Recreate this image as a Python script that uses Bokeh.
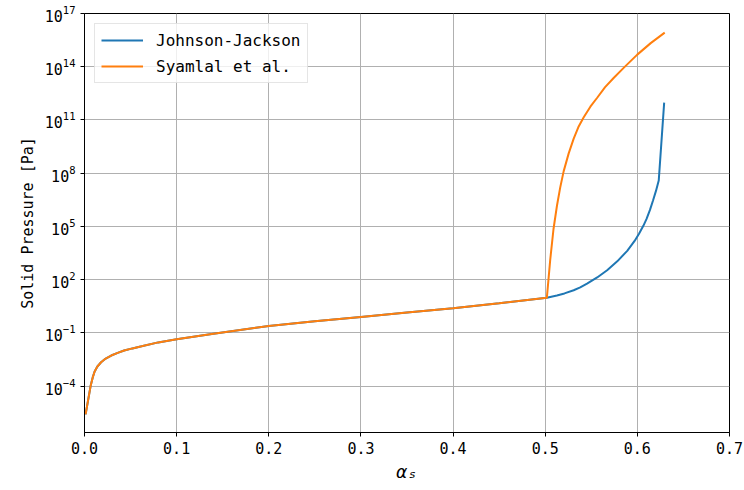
from bokeh.plotting import figure
from bokeh.models import FixedTicker, PrintfTickFormatter, Range1d, Legend, LegendItem
from bokeh.embed import file_html
from bokeh.resources import INLINE

# shared kinetic part (both models coincide below ~0.5)
alpha_low = [0.0012, 0.0068, 0.009, 0.011, 0.014, 0.018, 0.023, 0.029, 0.036, 0.043,
             0.052, 0.062, 0.08, 0.1, 0.14, 0.2, 0.25, 0.3, 0.35, 0.4, 0.45, 0.5018]
p_low = [2.5e-6, 1.12e-4, 3.16e-4, 6.6e-4, 1.26e-3, 2.19e-3, 3.55e-3, 5.25e-3, 7.4e-3, 1.0e-2,
         1.32e-2, 1.74e-2, 2.88e-2, 4.37e-2, 8.9e-2, 0.245, 0.447, 0.79, 1.38, 2.4, 4.57, 9.55]

# Johnson-Jackson frictional branch
alpha_jj = [0.5127, 0.5209, 0.5309, 0.538, 0.5454, 0.5564, 0.5672, 0.5782, 0.589,
            0.597, 0.6018, 0.6065, 0.610, 0.6137, 0.617, 0.6202, 0.6232, 0.6291]
p_jj = [12.6, 16.6, 25.1, 36.3, 58.9, 132.0, 339.0, 1.07e3, 4.17e3,
        1.51e4, 3.8e4, 1.07e5, 2.63e5, 8.5e5, 2.88e6, 1.0e7, 3.8e7, 9.5e11]

# Syamlal et al. frictional branch
alpha_sy = [0.5054, 0.509, 0.5127, 0.5163, 0.52, 0.5254, 0.5309, 0.536, 0.5418, 0.549,
            0.5564, 0.565, 0.5745, 0.5854, 0.5999, 0.6145, 0.6297]
p_sy = [1.26e3, 7.1e4, 1.41e6, 1.58e7, 1.26e8, 1.26e9, 8.9e9, 3.98e10, 1.41e11, 5.6e11,
        1.78e12, 7.1e12, 2.4e13, 8.9e13, 4.8e14, 2.14e15, 8.3e15]

x_ticks = [0.0, 0.1, 0.2, 0.3, 0.4, 0.5, 0.6, 0.7]
y_ticks = [1e-4, 1e-1, 1e2, 1e5, 1e8, 1e11, 1e14, 1e17]

FONT = "DejaVu Sans Mono"

p = figure(width=744, height=490, y_axis_type="log",
           x_range=Range1d(0, 0.7), y_range=Range1d(10 ** -6.62, 1e17),
           output_backend="svg", toolbar_location=None,
           min_border_left=84, min_border_right=15, min_border_top=13, min_border_bottom=58)

r1 = p.line(alpha_low + alpha_jj, p_low + p_jj, line_color="#1f77b4", line_width=2)
r2 = p.line(alpha_low + alpha_sy, p_low + p_sy, line_color="#ff7f0e", line_width=2)

p.xaxis.ticker = FixedTicker(ticks=x_ticks)
p.xaxis.formatter = PrintfTickFormatter(format="%.1f")
p.yaxis.ticker = FixedTicker(ticks=y_ticks)

for ax in (p.xaxis, p.yaxis):
    ax.major_label_text_font = FONT
    ax.major_label_text_font_size = "15px"
    ax.major_label_text_color = "black"
    ax.axis_label_text_font = FONT
    ax.axis_label_text_font_size = "16px"
    ax.axis_label_text_color = "black"
    ax.minor_tick_line_color = None
    ax.major_tick_in = 0
    ax.major_tick_out = 4
    ax.major_tick_line_color = "black"
    ax.axis_line_color = "black"

p.xaxis.axis_label = "αₛ"
p.xaxis.axis_label_text_font_style = "italic"
p.xaxis.axis_label_text_font_size = "18px"
p.xaxis.axis_label_standoff = 4
p.yaxis.axis_label = "Solid Pressure [Pa]"
p.yaxis.axis_label_text_font_style = "normal"
p.yaxis.axis_label_text_font_size = "15px"

p.grid.grid_line_color = "#b0b0b0"
p.grid.grid_line_width = 1
p.outline_line_color = "black"
p.outline_line_width = 1

legend = Legend(items=[LegendItem(label="Johnson-Jackson", renderers=[r1]),
                       LegendItem(label="Syamlal et al.", renderers=[r2])],
                location="top_left", padding=6, spacing=6, glyph_width=42, glyph_height=20,
                label_standoff=13, label_text_font=FONT, label_text_font_size="16px",
                label_text_color="black",
                border_line_color="#cccccc", background_fill_alpha=0.8, margin=10)
p.add_layout(legend)

open("out.html", "w").write(file_html(p, INLINE))
